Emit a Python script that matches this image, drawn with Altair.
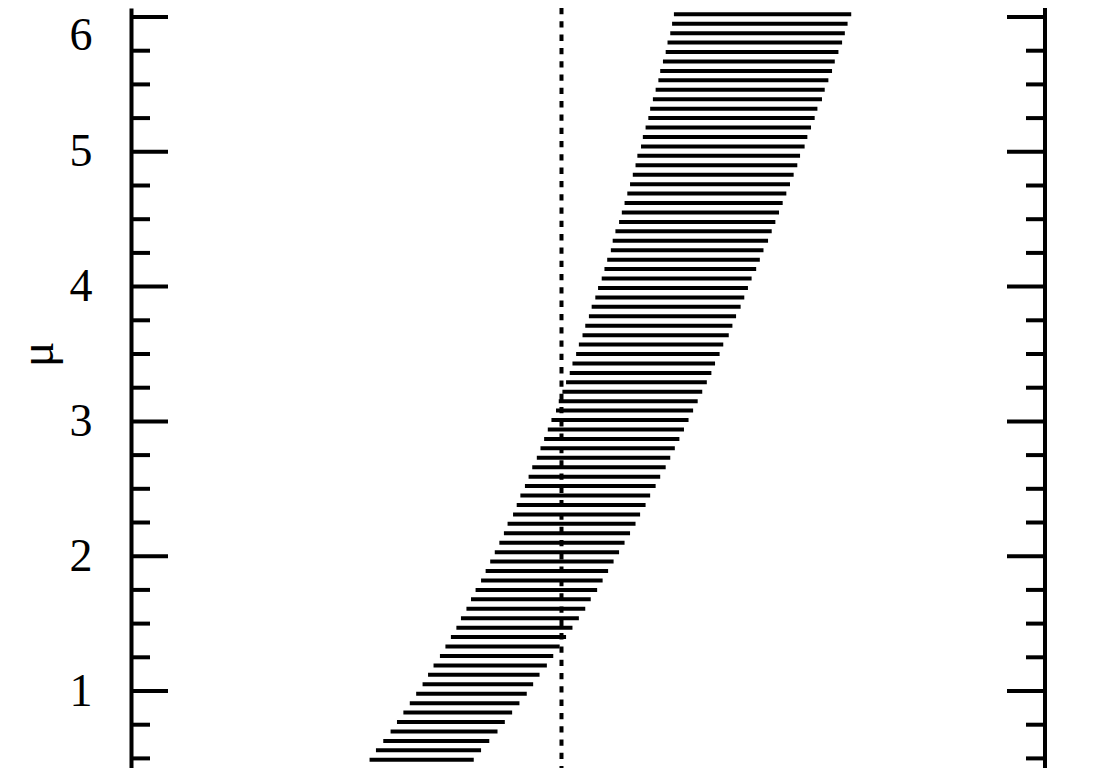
import altair as alt
import pandas as pd

# mu values of the belt (top to bottom)
mu = [round(6.09 - 0.07 * k, 2) for k in range(81)]

x_low = [5.97, 5.94, 5.92, 5.90, 5.87, 5.85, 5.82, 5.79, 5.77, 5.74,
         5.71, 5.68, 5.66, 5.63, 5.60, 5.58, 5.54, 5.52, 5.49, 5.46,
         5.43, 5.40, 5.37, 5.34, 5.30, 5.27, 5.25, 5.21, 5.18, 5.15,
         5.11, 5.08, 5.04, 5.01, 4.97, 4.94, 4.90, 4.87, 4.83, 4.80,
         4.76, 4.72, 4.68, 4.65, 4.60, 4.56, 4.52, 4.48, 4.44, 4.39,
         4.35, 4.31, 4.26, 4.22, 4.18, 4.12, 4.08, 4.03, 3.98, 3.93,
         3.88, 3.83, 3.77, 3.72, 3.67, 3.61, 3.56, 3.50, 3.44, 3.38,
         3.31, 3.25, 3.19, 3.12, 3.05, 2.98, 2.91, 2.84, 2.76, 2.68,
         2.61]

x_high = [7.91, 7.88, 7.84, 7.81, 7.78, 7.74, 7.70, 7.67, 7.63, 7.59,
          7.56, 7.51, 7.48, 7.44, 7.40, 7.37, 7.32, 7.29, 7.25, 7.21,
          7.17, 7.13, 7.09, 7.05, 7.01, 6.97, 6.92, 6.88, 6.84, 6.79,
          6.75, 6.71, 6.67, 6.62, 6.58, 6.54, 6.48, 6.44, 6.39, 6.35,
          6.30, 6.25, 6.20, 6.15, 6.10, 6.05, 6.00, 5.95, 5.90, 5.85,
          5.79, 5.74, 5.68, 5.63, 5.57, 5.52, 5.46, 5.40, 5.34, 5.28,
          5.22, 5.16, 5.10, 5.03, 4.97, 4.90, 4.83, 4.76, 4.69, 4.62,
          4.55, 4.47, 4.40, 4.33, 4.25, 4.17, 4.09, 4.01, 3.92, 3.83,
          3.75]

x_observed = [4.71]
x_max = [10.0]

major_ticks = [1, 2, 3, 4, 5, 6]
minor_ticks = [0.5, 0.75, 1.25, 1.5, 1.75, 2.25, 2.5, 2.75, 3.25, 3.5, 3.75,
               4.25, 4.5, 4.75, 5.25, 5.5, 5.75]

W, H = 914, 760
FONT = "Liberation Serif"

xscale = alt.Scale(domain=[0, 10], nice=False, zero=False)
yscale = alt.Scale(domain=[0.4288, 6.0668], nice=False, zero=False)

seg_df = pd.DataFrame({"mu": mu, "lo": x_low, "hi": x_high})
obs_df = pd.DataFrame({"x": x_observed})
edge_df = pd.DataFrame({"x": x_max})
maj_df = pd.DataFrame({"t": major_ticks})
min_df = pd.DataFrame({"t": minor_ticks})

yaxis = alt.Axis(
    values=major_ticks, ticks=False, tickSize=0, grid=False,
    domain=True, domainWidth=4, domainColor="black",
    labelFont=FONT, labelFontSize=46, labelColor="black", labelPadding=39,
    labelOverlap=False,
    labelOffset={"condition": {"test": "datum.value === 6", "value": 18}, "value": 0},
    title="μ", titleFont=FONT, titleFontSize=48, titleFontWeight="normal",
    titleColor="black", titleX=-79, titleY=346, titleAngle=270,
    titleAlign="center", titleBaseline="alphabetic",
)
xaxis = alt.Axis(domain=False, ticks=False, labels=False, grid=False, title=None)

segments = alt.Chart(seg_df).mark_rule(strokeWidth=4, color="black").encode(
    x=alt.X("lo:Q", scale=xscale, axis=xaxis),
    x2="hi:Q",
    y=alt.Y("mu:Q", scale=yscale, axis=yaxis),
)

observed = alt.Chart(obs_df).mark_rule(
    strokeWidth=4, color="black", strokeDash=[6.3, 7]
).encode(x=alt.X("x:Q", scale=xscale, axis=xaxis))

right_edge = alt.Chart(edge_df).mark_rule(strokeWidth=4, color="black").encode(
    x=alt.X("x:Q", scale=xscale, axis=xaxis)
)

def tick_layer(df, x0, x1):
    return alt.Chart(df).mark_rule(strokeWidth=4, color="black").encode(
        y=alt.Y("t:Q", scale=yscale, axis=yaxis),
        x=alt.value(x0),
        x2=alt.value(x1),
    )

chart = alt.layer(
    segments,
    observed,
    right_edge,
    tick_layer(maj_df, 0, 37),
    tick_layer(min_df, 0, 19),
    tick_layer(maj_df, W, W - 38),
    tick_layer(min_df, W, W - 19),
).properties(
    width=W, height=H,
    padding={"left": 123, "top": 0, "right": 20, "bottom": 0},
    autosize=alt.AutoSizeParams(type="none"),
    background="white",
).configure_view(stroke=None, strokeWidth=0)

chart.save("out.html", embed_options={"renderer": "svg", "actions": False})
